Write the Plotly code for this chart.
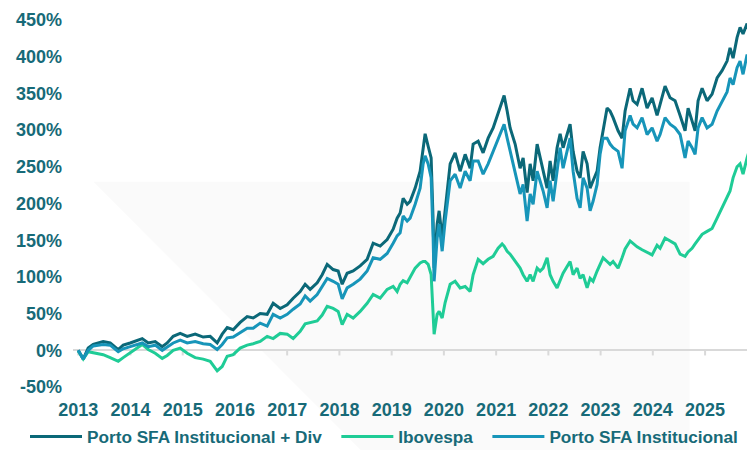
import plotly.graph_objects as go

# ---- data (decimal years, cumulative return in %) ----
dates = [
    2013.000, 2013.096, 2013.191, 2013.287, 2013.478, 2013.612, 2013.766, 2013.861, 2013.995, 2014.129,
    2014.225, 2014.340, 2014.474, 2014.608, 2014.703, 2014.818, 2014.952, 2015.086, 2015.239, 2015.392,
    2015.526, 2015.660, 2015.756, 2015.852, 2015.967, 2016.100, 2016.234, 2016.349, 2016.483, 2016.617,
    2016.732, 2016.866, 2017.000, 2017.115, 2017.249, 2017.344, 2017.440, 2017.574, 2017.670, 2017.766,
    2017.880, 2017.976, 2018.053, 2018.148, 2018.263, 2018.397, 2018.531, 2018.646, 2018.780, 2018.914,
    2019.029, 2019.105, 2019.163, 2019.220, 2019.297, 2019.354, 2019.450, 2019.545, 2019.603, 2019.641,
    2019.699, 2019.756, 2019.794, 2019.813, 2019.871, 2019.909, 2019.967, 2020.024, 2020.120, 2020.215,
    2020.311, 2020.407, 2020.502, 2020.560, 2020.656, 2020.751, 2020.847, 2020.943, 2021.038, 2021.115,
    2021.153, 2021.211, 2021.268, 2021.364, 2021.459, 2021.517, 2021.593, 2021.651, 2021.708, 2021.785,
    2021.842, 2021.900, 2021.976, 2022.033, 2022.091, 2022.167, 2022.225, 2022.282, 2022.416, 2022.474,
    2022.550, 2022.608, 2022.665, 2022.742, 2022.799, 2022.856, 2022.933, 2022.990, 2023.048, 2023.124,
    2023.182, 2023.239, 2023.335, 2023.411, 2023.469, 2023.565, 2023.622, 2023.699, 2023.794, 2023.890,
    2023.986, 2024.081, 2024.139, 2024.234, 2024.330, 2024.426, 2024.522, 2024.617, 2024.675, 2024.751,
    2024.809, 2024.866, 2024.943, 2025.038, 2025.134, 2025.230, 2025.325, 2025.421, 2025.478, 2025.536,
    2025.612, 2025.670, 2025.727, 2025.804, 2025.842,
]

porto_div = [
    0, -12, 3, 8, 12, 10, 1, 7, 10, 13,
    16, 10, 12, 5, 10, 19, 23, 19, 22, 18,
    19, 10, 22, 31, 28, 38, 46, 44, 50, 49,
    64, 57, 62, 71, 80, 90, 83, 92, 103, 117,
    110, 108, 90, 105, 108, 115, 124, 146, 142, 151,
    165, 180, 187, 207, 199, 203, 221, 244, 276, 295,
    278, 262, 176, 112, 172, 190, 153, 194, 254, 269,
    244, 267, 248, 281, 285, 269, 289, 303, 322, 340,
    347, 326, 303, 281, 248, 262, 215, 254, 231, 281,
    262, 244, 221, 258, 231, 276, 295, 276, 308, 271,
    244, 235, 271, 254, 221, 231, 244, 276, 299, 330,
    326, 317, 299, 289, 326, 357, 340, 335, 357, 330,
    344, 320, 335, 360, 344, 340, 320, 299, 330, 312,
    299, 340, 357, 340, 349, 371, 381, 394, 412, 398,
    426, 440, 431, 445, 435,
]

ibovespa = [
    -1, -12, -2, -3, -6, -10, -15, -10, -3, 3,
    8, 1, -4, -11, -7, 0, 3, -4, -10, -12,
    -15, -28, -22, -8, -6, 3, 7, 9, 12, 19,
    16, 23, 22, 16, 26, 36, 38, 40, 48, 60,
    57, 53, 35, 49, 44, 53, 64, 76, 71, 83,
    87, 80, 90, 95, 92, 100, 112, 119, 121, 121,
    117, 103, 49, 22, 49, 53, 44, 65, 90, 94,
    85, 87, 80, 103, 124, 118, 124, 128, 139, 145,
    142, 135, 131, 121, 112, 103, 94, 103, 94, 112,
    108, 112, 126, 103, 94, 85, 94, 105, 121, 103,
    112, 98, 103, 85, 98, 94, 108, 117, 126, 121,
    117, 121, 112, 126, 138, 149, 145, 141, 137, 133,
    130, 143, 139, 153, 149, 145, 131, 128, 134, 139,
    145, 150, 158, 162, 166, 180, 195, 210, 217, 235,
    250, 254, 240, 262, 271,
]

porto_inst = [
    0, -12, 0, 6, 8, 7, -2, 2, 5, 8,
    10, 5, 7, 0, 4, 10, 14, 10, 12, 9,
    8, 1, 8, 17, 18, 24, 30, 30, 37, 33,
    49, 44, 49, 56, 63, 74, 67, 76, 87, 98,
    94, 90, 70, 85, 90, 97, 108, 126, 124, 132,
    146, 156, 160, 183, 176, 180, 199, 221, 254, 265,
    254, 235, 153, 94, 153, 172, 135, 176, 231, 240,
    221, 244, 231, 258, 258, 240, 254, 271, 289, 303,
    308, 289, 271, 244, 213, 226, 176, 213, 199, 244,
    231, 217, 194, 231, 203, 248, 276, 248, 289, 244,
    207, 194, 235, 221, 190, 203, 226, 267, 289, 289,
    281, 276, 271, 248, 299, 320, 308, 303, 317, 294,
    303, 285, 294, 317, 308, 303, 294, 262, 285, 276,
    267, 303, 317, 303, 308, 326, 340, 352, 371, 362,
    385, 394, 376, 403, 390,
]

series_names = ["Porto SFA Institucional + Div", "Ibovespa", "Porto SFA Institucional"]
series_colors = ["#0b6878", "#1fcc96", "#1795b9"]

year_ticks = list(range(2013, 2026))
year_labels = [str(y) for y in year_ticks]
pct_ticks = list(range(-50, 451, 50))
pct_labels = [f"{v}%" for v in pct_ticks]

TEXT = "#176a78"
FONT = "Liberation Sans, Arial, sans-serif"
GRAY = "#d9d9d9"
PAD = "\u00a0\u00a0"   # extra spacing between legend entries

fig = go.Figure()
# small tick marks hanging under the zero line at each year
fig.add_trace(go.Scatter(
    x=year_ticks, y=[0] * len(year_ticks), mode="markers",
    marker=dict(size=1, opacity=0), showlegend=False, hoverinfo="skip",
    error_y=dict(type="data", symmetric=False, array=[0] * len(year_ticks),
                 arrayminus=[7] * len(year_ticks), width=0, thickness=2, color=GRAY)))
for i, (name, vals, col) in enumerate(zip(series_names, [porto_div, ibovespa, porto_inst], series_colors)):
    label = name + (PAD if i < len(series_names) - 1 else "")
    fig.add_trace(go.Scatter(x=dates, y=vals, name=label, mode="lines",
                             line=dict(color=col, width=3)))

# faint background watermark
fig.add_shape(type="path", xref="paper", yref="paper", layer="below",
              path="M 0.03,0.559 L 0.911,0.559 L 0.911,-0.172 L 0.425,-0.172 Z",
              fillcolor="rgba(0,0,0,0.018)", line=dict(width=0))

fig.update_layout(
    width=747, height=442,
    margin=dict(l=65, r=5, t=12, b=63, autoexpand=False),
    paper_bgcolor="white", plot_bgcolor="rgba(0,0,0,0)",
    font=dict(family=FONT, color=TEXT, size=18, weight="bold"),
    xaxis=dict(range=[2012.9, 2025.86], tickvals=year_ticks, ticktext=year_labels,
               showgrid=False, zeroline=False, showline=False, ticks="",
               ticklabelstandoff=10,
               tickfont=dict(size=18, color=TEXT, family=FONT, weight="bold")),
    yaxis=dict(range=[-50, 450], tickvals=pct_ticks, ticktext=pct_labels,
               showgrid=False, zeroline=True, zerolinecolor=GRAY, zerolinewidth=2,
               showline=False, ticks="", ticklabelstandoff=10,
               tickfont=dict(size=18, color=TEXT, family=FONT, weight="bold")),
    legend=dict(orientation="h", xref="paper", yref="paper",
                x=-0.0709, xanchor="left", y=-0.136, yanchor="middle",
                font=dict(size=17.2, color=TEXT, family=FONT, weight="bold"),
                itemwidth=52, traceorder="normal", bgcolor="rgba(0,0,0,0)"),
    showlegend=True,
)

fig.write_html("out.html")
